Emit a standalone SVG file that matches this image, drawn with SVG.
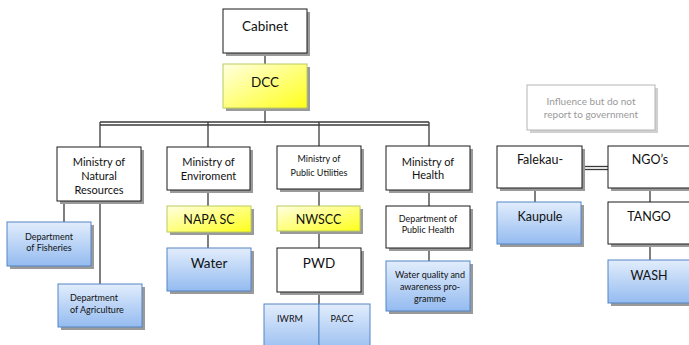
<svg xmlns="http://www.w3.org/2000/svg" width="689" height="345" viewBox="0 0 689 345">
<style>
text{font-family:Lato,"Liberation Sans",sans-serif;fill:#111;text-anchor:middle}
.sh{fill:#9a9a9a}
.w{fill:#fff;stroke:#1a1a1a;stroke-width:1}
.y{fill:url(#gy);stroke:#b9cc5c;stroke-width:1}
.b{fill:url(#gb);stroke:#5585c4;stroke-width:1}
.g{fill:#fff;stroke:#b5b5b5;stroke-width:1}
.big{font-size:13.5px}
.mid{font-size:12.5px}
.min{font-size:11px}
.sm{font-size:9px}
.gt{fill:#9a9a9a;font-size:10px}
.c line{stroke:#3a3a3a;stroke-width:1.3}
</style>
<defs>
<linearGradient id="gy" x1="0" y1="0" x2="1" y2="1">
<stop offset="0" stop-color="#ffffe2"/>
<stop offset="1" stop-color="#ffff1a"/>
</linearGradient>
<linearGradient id="gb" x1="0" y1="0" x2="0" y2="1">
<stop offset="0" stop-color="#e2edfc"/>
<stop offset="1" stop-color="#94bbf0"/>
</linearGradient>
</defs>
<rect width="689" height="345" fill="#fff"/>
<g class="c" id="connectors">
<line x1="265" y1="53" x2="265" y2="64"/>
<line x1="265" y1="108" x2="265" y2="123"/>
<line x1="100" y1="122" x2="429" y2="122" stroke-width="1"/>
<line x1="100" y1="125" x2="429" y2="125" stroke-width="1"/>
<line x1="100" y1="122" x2="100" y2="147"/>
<line x1="208" y1="122" x2="208" y2="147"/>
<line x1="319" y1="122" x2="319" y2="146"/>
<line x1="429" y1="122" x2="429" y2="146"/>
<line x1="64" y1="201" x2="64" y2="222"/>
<line x1="100" y1="201" x2="100" y2="284"/>
<line x1="208" y1="190" x2="208" y2="206"/>
<line x1="208" y1="232" x2="208" y2="248"/>
<line x1="319" y1="189" x2="319" y2="206"/>
<line x1="319" y1="231" x2="319" y2="248"/>
<line x1="319" y1="292" x2="319" y2="304"/>
<line x1="429" y1="190" x2="429" y2="206"/>
<line x1="429" y1="248" x2="429" y2="261"/>
<line x1="535" y1="188" x2="535" y2="202"/>
<line x1="650" y1="188" x2="650" y2="202"/>
<line x1="650" y1="244" x2="650" y2="260"/>
<line x1="582" y1="166.5" x2="608" y2="166.5" stroke-width="1"/>
<line x1="582" y1="169.5" x2="608" y2="169.5" stroke-width="1"/>
</g>
<g id="cabinet"><rect class="sh" x="226" y="12" width="84" height="44"/><rect class="w" x="223" y="9" width="84" height="44"/><text class="big" x="265" y="31">Cabinet</text></g>
<g id="dcc"><rect class="sh" x="226" y="67" width="84" height="44"/><rect class="y" x="223" y="64" width="84" height="44"/><text class="big" x="265" y="87">DCC</text></g>
<g id="min-nr"><rect class="sh" x="60" y="150" width="84" height="54"/><rect class="w" x="57" y="147" width="84" height="54"/><text class="min" x="99" y="166">Ministry of</text><text class="min" x="99" y="180">Natural</text><text class="min" x="99" y="194">Resources</text></g>
<g id="min-env"><rect class="sh" x="170" y="150" width="83" height="43"/><rect class="w" x="167" y="147" width="83" height="43"/><text class="min" x="208.5" y="166">Ministry of</text><text class="min" x="208.5" y="180">Enviroment</text></g>
<g id="min-pu"><rect class="sh" x="280" y="149" width="84" height="43"/><rect class="w" x="277" y="146" width="84" height="43"/><text class="sm" x="319" y="162">Ministry of</text><text class="sm" x="319" y="176">Public Utilities</text></g>
<g id="min-health"><rect class="sh" x="389" y="149" width="84" height="44"/><rect class="w" x="386" y="146" width="84" height="44"/><text class="min" x="428" y="166">Ministry of</text><text class="min" x="428" y="179">Health</text></g>
<g id="napa"><rect class="sh" x="170" y="209" width="84" height="26"/><rect class="y" x="167" y="206" width="84" height="26"/><text class="mid" x="209" y="224">NAPA SC</text></g>
<g id="nwscc"><rect class="sh" x="280" y="209" width="83" height="25"/><rect class="y" x="277" y="206" width="83" height="25"/><text class="mid" x="318.5" y="224">NWSCC</text></g>
<g id="dph"><rect class="sh" x="389" y="209" width="84" height="42"/><rect class="w" x="386" y="206" width="84" height="42"/><text class="sm" x="428" y="221.5">Department of</text><text class="sm" x="428" y="232.5">Public Health</text></g>
<g id="fisheries"><rect class="sh" x="10" y="225" width="84" height="44"/><rect class="b" x="7" y="222" width="84" height="44"/><text class="sm" x="49" y="239.5">Department</text><text class="sm" x="49" y="251">of Fisheries</text></g>
<g id="agriculture"><rect class="sh" x="61" y="287" width="84" height="43"/><rect class="b" x="58" y="284" width="84" height="43"/><text class="sm" x="70" y="301" text-anchor="start" style="text-anchor:start">Department</text><text class="sm" x="70" y="313" style="text-anchor:start">of Agriculture</text></g>
<g id="water"><rect class="sh" x="170" y="251" width="84" height="43"/><rect class="b" x="167" y="248" width="84" height="43"/><text class="big" x="209" y="268">Water</text></g>
<g id="pwd"><rect class="sh" x="280" y="251" width="84" height="44"/><rect class="w" x="277" y="248" width="84" height="44"/><text class="big" x="319" y="268">PWD</text></g>
<g id="iwrm"><rect class="b" x="264" y="304" width="55" height="50"/><text class="sm" x="290" y="321.5">IWRM</text></g>
<g id="pacc"><rect class="b" x="319" y="304" width="51" height="50"/><text class="sm" x="342" y="321.5">PACC</text></g>
<g id="wq"><rect class="sh" x="389" y="264" width="84" height="50"/><rect class="b" x="386" y="261" width="84" height="50"/><text class="sm" x="430" y="278">Water quality and</text><text class="sm" x="430" y="290">awareness pro-</text><text class="sm" x="430" y="302">gramme</text></g>
<g id="influence"><rect fill="#d0d0d0" x="530" y="88" width="128" height="45"/><rect class="g" x="527" y="85" width="128" height="45"/><text class="gt" x="591" y="105">Influence but do not</text><text class="gt" x="591" y="118">report to government</text></g>
<g id="falekau"><rect class="sh" x="500" y="149" width="85" height="42"/><rect class="w" x="497" y="146" width="85" height="42"/><text class="mid" x="540" y="164">Falekau-</text></g>
<g id="ngo"><rect class="sh" x="611" y="149" width="84" height="42"/><rect class="w" x="608" y="146" width="84" height="42"/><text class="mid" x="650" y="164">NGO’s</text></g>
<g id="kaupule"><rect class="sh" x="500" y="205" width="84" height="42"/><rect class="b" x="497" y="202" width="84" height="42"/><text class="mid" x="540" y="221">Kaupule</text></g>
<g id="tango"><rect class="sh" x="611" y="205" width="84" height="42"/><rect class="w" x="608" y="202" width="84" height="42"/><text class="mid" x="649" y="221">TANGO</text></g>
<g id="wash"><rect class="sh" x="611" y="263" width="84" height="43"/><rect class="b" x="608" y="260" width="84" height="43"/><text class="mid" x="649" y="280">WASH</text></g>
</svg>
